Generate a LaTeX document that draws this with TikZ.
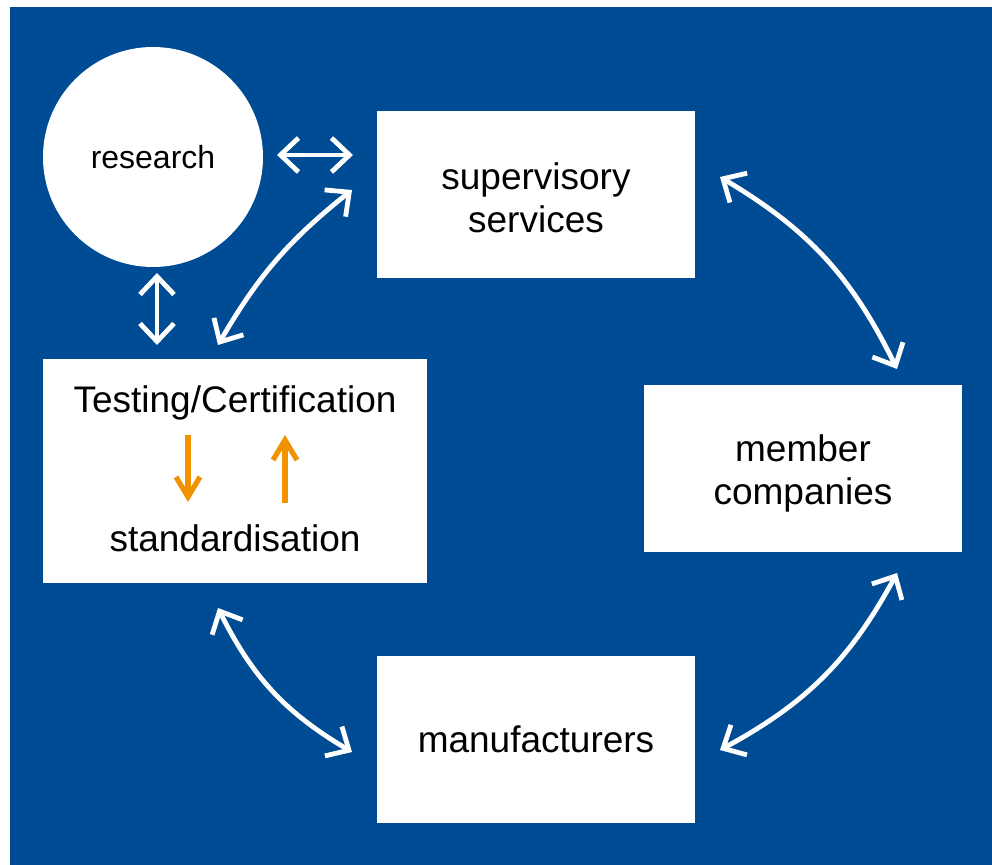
\documentclass[tikz,border=0pt]{standalone}
\usepackage{fontspec}
\setmainfont{Liberation Sans}
\usetikzlibrary{arrows.meta,bending}
\definecolor{bgblue}{RGB}{0,76,148}
\definecolor{steporange}{RGB}{243,146,0}

\begin{document}
\begin{tikzpicture}[x=0.5pt,y=-0.5pt,
  box/.style={fill=white,inner sep=0pt,minimum width=159pt,minimum height=83.5pt,
    align=center,font=\fontsize{18.5}{21.5}\selectfont},
  label/.style={inner sep=0pt,font=\fontsize{18.5}{21.5}\selectfont},
  link/.style={draw=white,line width=2.4pt,
    {Straight Barb[length=9pt,width=17pt]}-{Straight Barb[length=9pt,width=17pt]}},
  flow/.style={draw=steporange,line width=2.6pt,-{Straight Barb[length=10pt,width=12pt]}}]
\useasboundingbox (0,0) rectangle (992,865);
\fill[bgblue] (10,7) rectangle (992,865);
% nodes
\node[circle,fill=white,inner sep=0pt,minimum size=110pt,
  font=\fontsize{16}{19}\selectfont] (res) at (153,157) {research};
\node[box,minimum width=159pt,minimum height=83.5pt] (supbox) at (536,194.5) {};
\node[label,align=center] (sup) at (536,197.5) {supervisory\\services};
\node[box,minimum width=192pt,minimum height=112pt] (test) at (235,471) {};
\node[label] (cert) at (235,403) {Testing/Certification};
\node[label] (std) at (235,538) {standardisation};
\node[box] (membox) at (803,468.5) {};
\node[label,align=center] (mem) at (803,473) {member\\companies};
\node[box] (manu) at (536,739.5) {manufacturers};
% arrow ends
\coordinate (rs1) at (277,155);
\coordinate (rs2) at (353,155);
\coordinate (rt1) at (157,273);
\coordinate (rt2) at (157,345);
\coordinate (ts1) at (218,345);
\coordinate (ts2) at (352,190);
\coordinate (sm1) at (720,177);
\coordinate (sm2) at (897,369);
\coordinate (mm1) at (897,573);
\coordinate (mm2) at (720,750);
\coordinate (mt1) at (352,752);
\coordinate (mt2) at (218,608);
\coordinate (d1) at (188,435);
\coordinate (d2) at (188,502);
\coordinate (u1) at (285,503);
\coordinate (u2) at (285,435);
% connectors
\draw[link] (rs1) -- (rs2);
\draw[link] (rt1) -- (rt2);
\draw[link] (ts1) to[bend left=11] (ts2);
\foreach \a/\b in {sm1/sm2,mm1/mm2,mt1/mt2}
  \draw[link] (\a) to[bend left=17] (\b);
\draw[flow] (d1) -- (d2);
\draw[flow] (u1) -- (u2);
\end{tikzpicture}
\end{document}
